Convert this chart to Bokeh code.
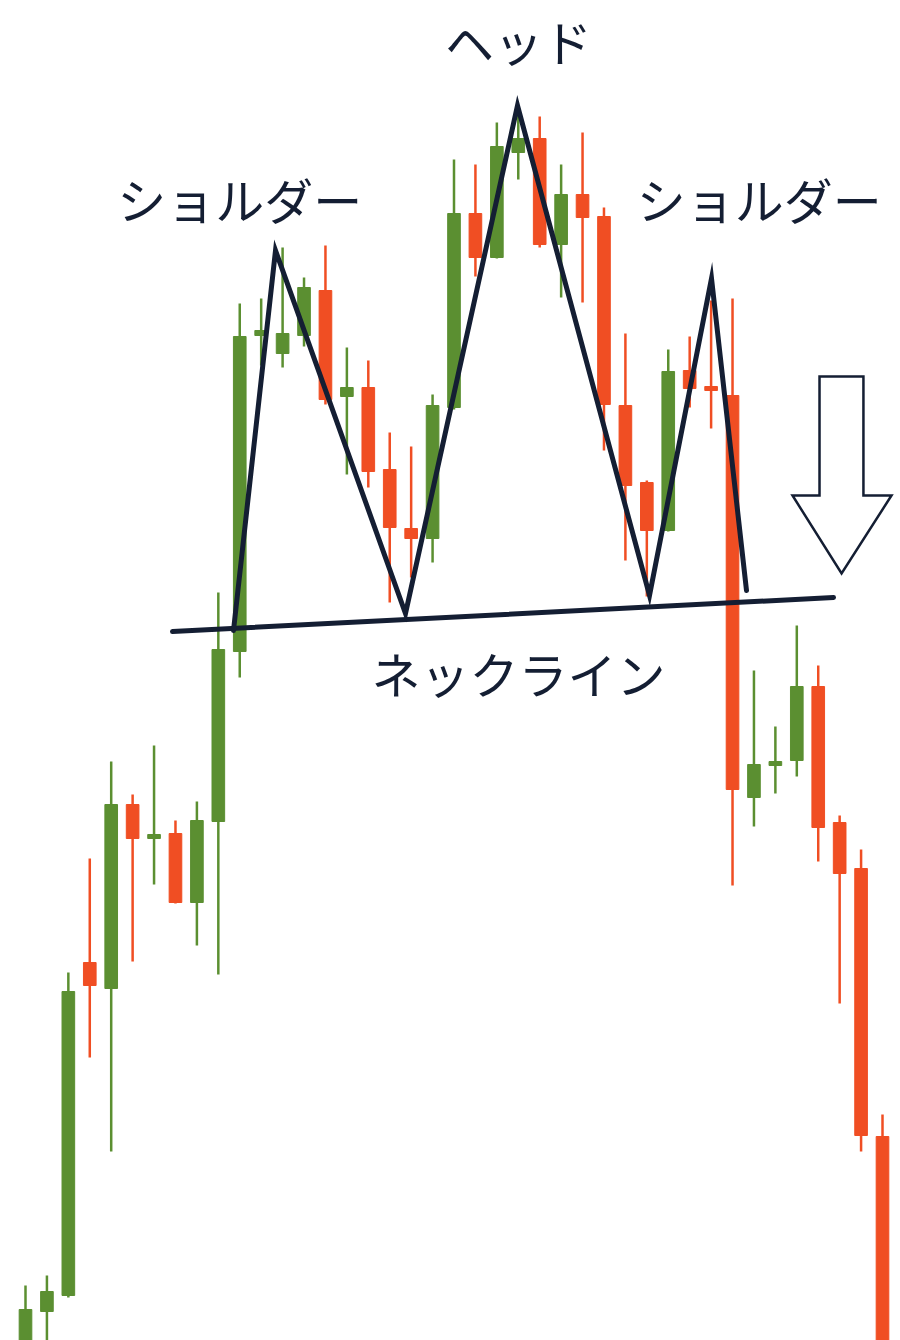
from bokeh.plotting import figure
from bokeh.models import ColumnDataSource, Range1d
from bokeh.core.properties import value
from bokeh.embed import file_html
from bokeh.resources import INLINE

# ---- candle data (price units) ----
opens  = [5.5, 8.9, 10.5, 43.8, 41.2, 59.6, 56.2, 56.7, 49.8, 57.9,
          74.9, 106.5, 104.7, 106.5, 111.0, 100.4, 101.3, 93.1, 87.2, 86.2,
          99.3, 118.7, 114.3, 124.8, 126.2, 115.6, 120.6, 118.4, 99.5, 91.8,
          87.0, 103.0, 101.4, 100.5, 60.3, 63.5, 64.0, 71.4, 57.8, 53.2, 26.4]
closes = [9.1, 10.9, 40.9, 41.5, 59.6, 56.2, 56.6, 49.8, 58.0, 75.1,
          106.4, 107.0, 106.7, 111.3, 100.1, 101.3, 92.9, 87.3, 86.2, 99.5,
          118.7, 114.3, 125.4, 126.2, 115.6, 120.6, 118.3, 99.6, 91.5, 87.0,
          102.9, 101.2, 101.0, 61.1, 63.6, 63.9, 71.4, 57.3, 52.7, 26.5, 4.0]
highs  = [11.5, 12.5, 42.8, 54.2, 63.9, 60.6, 65.5, 58.0, 59.9, 80.8,
          109.7, 110.2, 115.3, 112.3, 115.5, 105.3, 104.0, 96.8, 95.4, 100.6,
          124.1, 123.6, 127.8, 129.0, 128.4, 123.6, 126.8, 119.3, 106.7, 92.0,
          105.1, 106.4, 110.0, 110.2, 73.0, 67.4, 77.5, 73.5, 58.5, 55.1, 28.6]
lows   = [4.0, 4.0, 10.3, 34.3, 24.9, 43.9, 51.6, 49.7, 45.5, 42.6,
          72.3, 103.5, 103.3, 105.4, 99.6, 92.6, 91.3, 79.8, 82.3, 83.8,
          99.1, 112.4, 114.2, 122.1, 115.3, 110.3, 109.8, 95.0, 84.0, 80.4,
          86.9, 99.3, 97.2, 51.5, 57.4, 60.7, 62.4, 53.9, 39.7, 24.9, 4.0]
idx = list(range(len(opens)))

# ---- pattern annotation (x in candle index, y in price) ----
pattern_x = [9.708, 11.669, 17.736, 22.964, 29.125, 32.019, 33.652]
pattern_y = [77.0, 115.0, 78.7, 129.5, 80.5, 112.2, 81.0]
neck_x = [6.861, 37.713]
neck_y = [76.9, 80.3]
arrow_x = [37.06, 39.11, 39.11, 40.42, 38.09, 35.80, 37.06]
arrow_y = [102.4, 102.4, 90.5, 90.5, 82.7, 90.5, 90.5]
label_text = ["ショルダー", "ヘッド", "ショルダー", "ネックライン"]
label_x = [10.0, 23.01, 34.25, 23.01]
label_y = [120.2, 136.0, 120.2, 72.8]

GREEN = "#5B8F31"
RED = "#F04E23"
DARK = "#141E33"

up = [c >= o for o, c in zip(opens, closes)]
colors = [GREEN if u else RED for u in up]
src = ColumnDataSource(dict(
    x=idx,
    top=[max(o, c) for o, c in zip(opens, closes)],
    bottom=[min(o, c) for o, c in zip(opens, closes)],
    high=highs, low=lows, color=colors,
))

W, H = 900, 1340
p = figure(width=W, height=H, output_backend="svg", toolbar_location=None,
           x_range=Range1d(-1.1669, 40.84), y_range=Range1d(6.0, 140.0),
           min_border=0, outline_line_color=None)
p.axis.visible = False
p.grid.visible = False
p.background_fill_color = "white"
p.border_fill_color = "white"

p.segment(x0="x", x1="x", y0="low", y1="high", source=src,
          line_color="color", line_width=2.5)
p.vbar(x="x", top="top", bottom="bottom", width=0.59, source=src,
       fill_color="color", line_color="color", line_width=1)

p.line(neck_x, neck_y, line_color=DARK, line_width=5, line_cap="round")
p.line(pattern_x, pattern_y, line_color=DARK, line_width=5,
       line_join="miter", line_cap="round")

p.patch(arrow_x, arrow_y, fill_color="white", line_color=DARK, line_width=2.5,
        line_join="miter")

p.text(x=label_x, y=label_y, text=label_text,
       text_font=value("Noto Sans CJK JP"), text_font_size="49px",
       text_color=DARK, text_align="center", text_baseline="middle")

open("out.html", "w").write(file_html(p, INLINE))
